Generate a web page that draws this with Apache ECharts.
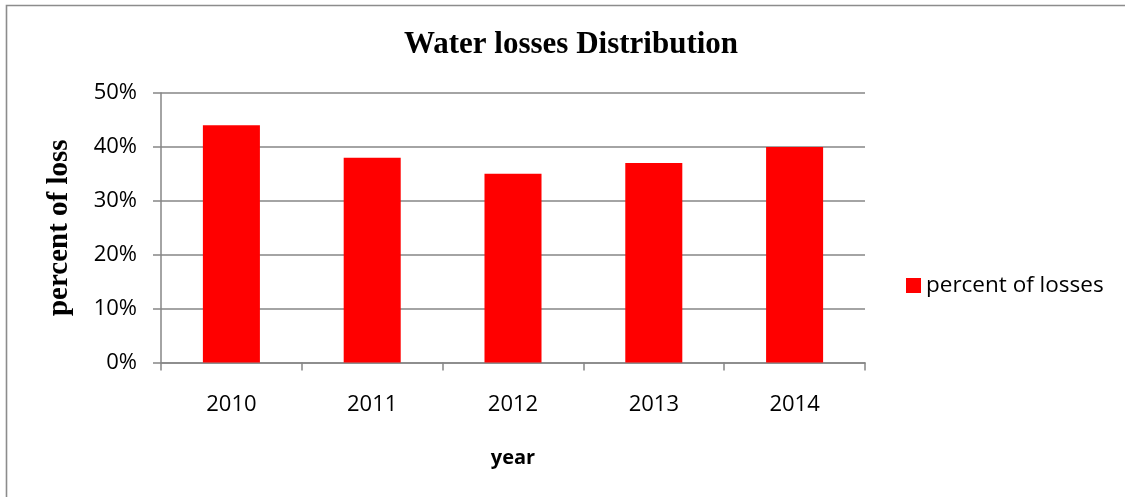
<!DOCTYPE html>
<html>
<head>
<meta charset="utf-8">
<title>Water losses Distribution</title>
<script src="https://cdn.jsdelivr.net/npm/echarts@6/dist/echarts.min.js"></script>
<style>
  html, body { margin: 0; padding: 0; background: #ffffff; }
  #chart { width: 1125px; height: 497px; }
</style>
</head>
<body>
<div id="chart"></div>
<script>
// Yearly share of water lost, in percent
const years = ['2010', '2011', '2012', '2013', '2014'];
const lossPercent = [44, 38, 35, 37, 40];
const seriesName = 'percent of losses';
const yTicks = { min: 0, max: 50, interval: 10 };

const axisGray = '#868686';
const labelFont = '"Open Sans", "Noto Sans", sans-serif';
const serifFont = '"Liberation Serif", "DejaVu Serif", serif';

const chart = echarts.init(document.getElementById('chart'), null, { renderer: 'canvas' });

chart.setOption({
  backgroundColor: '#ffffff',
  animation: false,
  graphic: [
    {
      // chart frame (only left and top edges fall inside the view)
      type: 'rect',
      shape: { x: 6.5, y: 5.5, width: 1200, height: 600 },
      style: { fill: 'none', stroke: '#8c8c8c', lineWidth: 1.6 },
      silent: true
    }
  ],
  title: {
    text: 'Water losses Distribution',
    left: 566,
    textAlign: 'center',
    top: 24,
    textStyle: {
      fontFamily: serifFont,
      fontWeight: 'bold',
      fontSize: 31,
      color: '#000000'
    }
  },
  legend: {
    data: [seriesName],
    left: 901,
    top: 269,
    icon: 'rect',
    itemWidth: 15,
    itemHeight: 15,
    textStyle: {
      fontFamily: labelFont,
      fontSize: 22.5,
      color: '#000000'
    }
  },
  grid: {
    left: 161,
    right: 260,
    top: 93,
    bottom: 134.5,
    containLabel: false
  },
  xAxis: {
    type: 'category',
    data: years,
    name: 'year',
    nameLocation: 'middle',
    nameGap: 86,
    nameTextStyle: {
      fontFamily: labelFont,
      fontWeight: 'bold',
      fontSize: 20,
      color: '#000000'
    },
    axisLine: { show: true, lineStyle: { color: axisGray, width: 1.5 } },
    axisTick: {
      show: true,
      alignWithLabel: false,
      length: 8,
      inside: false,
      lineStyle: { color: axisGray, width: 1.5 }
    },
    axisLabel: {
      fontFamily: labelFont,
      fontSize: 22,
      color: '#000000',
      margin: 31
    },
    splitLine: { show: false }
  },
  yAxis: {
    type: 'value',
    min: yTicks.min,
    max: yTicks.max,
    interval: yTicks.interval,
    name: 'percent of loss',
    nameLocation: 'middle',
    nameGap: 87,
    nameRotate: 90,
    nameTextStyle: {
      fontFamily: serifFont,
      fontWeight: 'bold',
      fontSize: 29,
      color: '#000000'
    },
    axisLine: { show: true, lineStyle: { color: axisGray, width: 1.5 } },
    axisTick: {
      show: true,
      length: 8,
      inside: false,
      lineStyle: { color: axisGray, width: 1.5 }
    },
    axisLabel: {
      fontFamily: labelFont,
      fontSize: 22,
      color: '#000000',
      margin: 24,
      formatter: '{value}%'
    },
    splitLine: { show: true, lineStyle: { color: axisGray, width: 1.5 } }
  },
  series: [
    {
      name: seriesName,
      type: 'bar',
      data: lossPercent,
      barWidth: '40.5%',
      itemStyle: { color: '#ff0000' }
    }
  ]
});
</script>
</body>
</html>
